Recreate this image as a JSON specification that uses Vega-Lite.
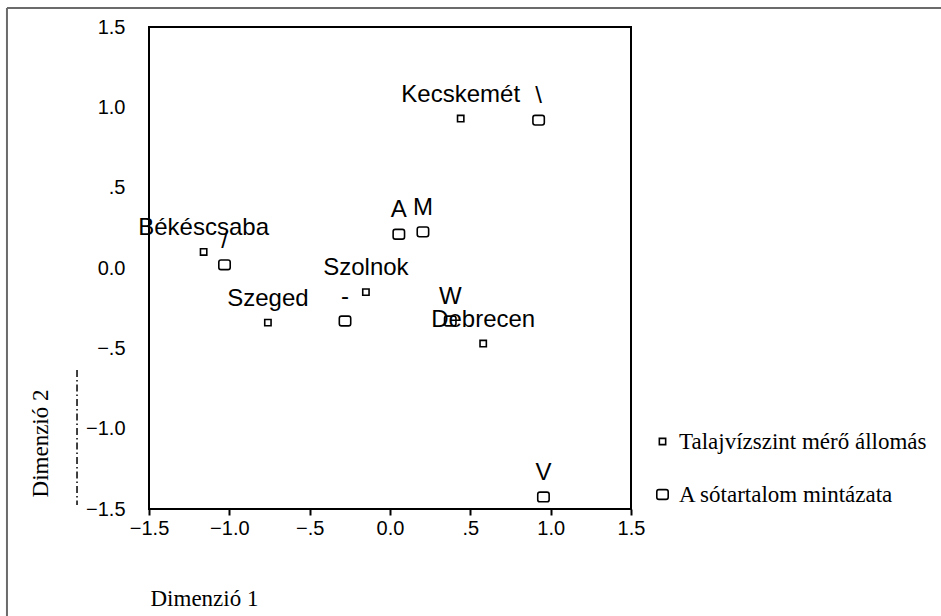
{
  "$schema": "https://vega.github.io/schema/vega-lite/v6.json",
  "autosize": "none",
  "width": 482,
  "height": 482,
  "padding": {"left": 149, "top": 27, "right": 310, "bottom": 107},
  "background": "white",
  "datasets": {
    "pts": [
      {"series": "Talajvízszint mérő állomás", "label": "Kecskemét", "d1": 0.44, "d2": 0.93},
      {"series": "Talajvízszint mérő állomás", "label": "Békéscsaba", "d1": -1.16, "d2": 0.10},
      {"series": "Talajvízszint mérő állomás", "label": "Szeged", "d1": -0.76, "d2": -0.34},
      {"series": "Talajvízszint mérő állomás", "label": "Szolnok", "d1": -0.15, "d2": -0.15},
      {"series": "Talajvízszint mérő állomás", "label": "Debrecen", "d1": 0.58, "d2": -0.47},
      {"series": "A sótartalom mintázata", "label": "\\", "d1": 0.925, "d2": 0.92},
      {"series": "A sótartalom mintázata", "label": "/", "d1": -1.03, "d2": 0.02},
      {"series": "A sótartalom mintázata", "label": "-", "d1": -0.28, "d2": -0.33},
      {"series": "A sótartalom mintázata", "label": "A", "d1": 0.055, "d2": 0.21},
      {"series": "A sótartalom mintázata", "label": "M", "d1": 0.205, "d2": 0.225},
      {"series": "A sótartalom mintázata", "label": "W", "d1": 0.375, "d2": -0.33},
      {"series": "A sótartalom mintázata", "label": "V", "d1": 0.955, "d2": -1.425}
    ],
    "border": [
      {"x": -2.384, "x2": -2.384, "y": 1.618, "y2": -2.2},
      {"x": -2.384, "x2": 3.45, "y": 1.618, "y2": 1.618}
    ],
    "stray": [
      {"x": -1.948, "x2": -1.948, "y": -0.635, "y2": -1.475}
    ]
  },
  "layer": [
    {
      "data": {"name": "border"},
      "mark": {"type": "rule", "color": "#6b6b6b", "strokeWidth": 2, "clip": false},
      "encoding": {
        "x": {"field": "x", "type": "quantitative", "scale": {"domain": [-1.5, 1.5], "nice": false, "zero": false}},
        "x2": {"field": "x2"},
        "y": {"field": "y", "type": "quantitative", "scale": {"domain": [-1.5, 1.5], "nice": false, "zero": false}},
        "y2": {"field": "y2"}
      }
    },
    {
      "data": {"name": "stray"},
      "mark": {"type": "rule", "color": "#111", "strokeWidth": 1.6, "strokeDash": [7, 3, 1.5, 3], "clip": false},
      "encoding": {
        "x": {"field": "x", "type": "quantitative"},
        "x2": {"field": "x2"},
        "y": {"field": "y", "type": "quantitative"},
        "y2": {"field": "y2"}
      }
    },
    {
      "data": {"name": "pts"},
      "mark": {"type": "point", "filled": false, "stroke": "black", "strokeWidth": 1.6, "opacity": 1},
      "encoding": {
        "x": {
          "field": "d1", "type": "quantitative",
          "scale": {"domain": [-1.5, 1.5], "nice": false, "zero": false},
          "axis": {
            "values": [-1.5, -1, -0.5, 0, 0.5, 1, 1.5],
            "labelExpr": "abs(datum.value) == 0.5 ? replace(format(datum.value, '.1f'), '0.', '.') : format(datum.value, '.1f')",
            "title": "Dimenzió 1",
            "titleX": 1, "titleY": 89, "titleAlign": "left", "titleBaseline": "middle",
            "domain": false, "grid": false,
            "ticks": true, "tickSize": 6, "tickWidth": 2, "tickColor": "black",
            "labelPadding": 3, "labelFlush": false, "labelOverlap": false
          }
        },
        "y": {
          "field": "d2", "type": "quantitative",
          "scale": {"domain": [-1.5, 1.5], "nice": false, "zero": false},
          "axis": {
            "values": [-1.5, -1, -0.5, 0, 0.5, 1, 1.5],
            "labelExpr": "abs(datum.value) == 0.5 ? replace(format(datum.value, '.1f'), '0.', '.') : format(datum.value, '.1f')",
            "title": "Dimenzió 2",
            "titleX": -109, "titleY": 416, "titleAlign": "center", "titleBaseline": "middle", "titleAngle": -90,
            "domain": false, "grid": false, "ticks": false,
            "labelPadding": 24, "labelFlush": false, "labelOverlap": false
          }
        },
        "shape": {
          "field": "series", "type": "nominal",
          "scale": {
            "domain": ["Talajvízszint mérő állomás", "A sótartalom mintázata"],
            "range": ["square", "M-0.62,-0.85L0.62,-0.85Q1,-0.85 1,-0.47L1,0.47Q1,0.85 0.62,0.85L-0.62,0.85Q-1,0.85 -1,0.47L-1,-0.47Q-1,-0.85 -0.62,-0.85Z"]
          },
          "legend": {
            "title": null, "orient": "none", "legendX": 502, "legendY": 403,
            "padding": 0, "rowPadding": 29, "labelOffset": 5,
            "symbolStrokeColor": "black", "symbolStrokeWidth": 1.6, "symbolFillColor": "white",
            "labelFont": "Liberation Serif", "labelFontSize": 23, "labelColor": "black", "labelLimit": 400
          }
        },
        "size": {
          "field": "series", "type": "nominal",
          "scale": {"domain": ["Talajvízszint mérő állomás", "A sótartalom mintázata"], "range": [40, 130]},
          "legend": {
            "title": null, "orient": "none", "legendX": 502, "legendY": 403,
            "padding": 0, "rowPadding": 29, "labelOffset": 5,
            "symbolStrokeColor": "black", "symbolStrokeWidth": 1.6, "symbolFillColor": "white",
            "labelFont": "Liberation Serif", "labelFontSize": 23, "labelColor": "black", "labelLimit": 400
          }
        }
      }
    },
    {
      "data": {"name": "pts"},
      "mark": {"type": "text", "font": "Liberation Sans", "fontSize": 24, "color": "black", "dy": -24, "baseline": "middle", "align": "center"},
      "encoding": {
        "x": {"field": "d1", "type": "quantitative"},
        "y": {"field": "d2", "type": "quantitative"},
        "text": {"field": "label"}
      }
    }
  ],
  "config": {
    "view": {"stroke": "black", "strokeWidth": 2},
    "axis": {
      "labelFont": "Liberation Sans", "labelFontSize": 20, "labelColor": "black",
      "titleFont": "Liberation Serif", "titleFontSize": 23, "titleFontWeight": "normal", "titleColor": "black"
    },
    "legend": {"labelFont": "Liberation Serif"}
  }
}
